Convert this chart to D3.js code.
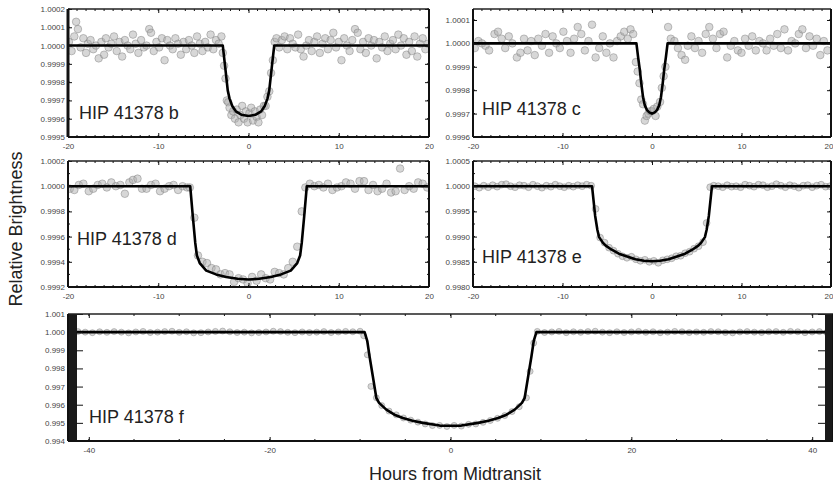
<!DOCTYPE html>
<html>
<head>
<meta charset="utf-8">
<script src="https://cdn.jsdelivr.net/npm/d3@7"></script>
<style>
  body { margin: 0; background: #fff; }
  svg { display: block; font-family: "Liberation Sans", Arial, sans-serif; }
  .tick text { fill: #444; font-size: 8px; }
  .tick line { stroke: #111; }
</style>
</head>
<body>
<script>
// light curves: time (hours from midtransit) and flux offset in ppm from 1
var bTime = [-19.9,-19.6,-19.3,-19.1,-18.9,-18.6,-18.3,-18.0,-17.8,-17.5,-17.2,-16.9,-16.6,-16.3,-16.0,-15.8,-15.5,-15.2,-14.9,-14.6,-14.3,-14.0,-13.7,-13.4,-13.1,-12.8,-12.5,-12.2,-11.9,-11.6,-11.3,-11.0,-10.8,-10.5,-10.2,-9.9,-9.6,-9.3,-9.0,-8.7,-8.4,-8.1,-7.8,-7.5,-7.2,-6.9,-6.6,-6.3,-6.0,-5.7,-5.4,-5.1,-4.8,-4.5,-4.2,-3.9,-3.6,-3.3,-3.0,-2.85,-2.7,-2.55,-2.4,-2.25,-2.1,-1.9,-1.7,-1.5,-1.3,-1.1,-0.9,-0.7,-0.5,-0.3,-0.1,0.1,0.3,0.5,0.7,0.9,1.1,1.3,1.5,1.7,1.9,2.1,2.3,2.5,2.7,2.9,3.1,3.4,3.7,4.0,4.3,4.6,4.9,5.2,5.5,5.8,6.1,6.4,6.7,7.0,7.3,7.6,7.9,8.2,8.5,8.8,9.1,9.4,9.7,10.0,10.3,10.6,10.9,11.2,11.5,11.8,12.1,12.4,12.7,13.0,13.3,13.6,13.9,14.2,14.5,14.8,15.1,15.4,15.7,16.0,16.3,16.6,16.9,17.2,17.5,17.8,18.1,18.4,18.7,19.0,19.3,19.6,19.9];
var bPpm = [20,-30,50,130,90,-10,40,-40,10,30,-20,0,-70,20,-50,40,-10,10,50,-30,20,-60,30,0,-20,60,10,-40,30,-10,0,90,70,-30,20,-10,40,-80,30,0,-20,40,10,-50,20,-20,30,0,-40,50,10,-30,20,-10,60,-20,30,10,50,-40,-110,-180,-300,-310,-340,-380,-360,-400,-350,-420,-380,-330,-400,-360,-420,-370,-340,-410,-360,-390,-420,-350,-380,-330,-330,-280,-250,-150,-80,20,40,-10,30,50,-20,40,10,-10,60,-20,-60,0,30,-30,20,50,-40,10,40,-20,30,70,-10,20,-80,40,0,-30,30,90,70,-20,20,-40,40,0,30,-70,20,-10,50,-30,10,30,-20,60,0,40,-50,20,-30,50,-60,10,40,-20,10];
var bModelTime = [-20,-2.85,-2.6,-2.3,-2.1,-1.8,-1.4,-0.8,0,0.8,1.4,1.8,2.1,2.3,2.6,2.85,20];
var bModelPpm = [0,0,-110,-245,-290,-330,-360,-378,-385,-378,-360,-330,-290,-245,-110,0,0];

var cTime = [-19.8,-19.4,-19.0,-18.6,-18.2,-17.6,-17.2,-16.8,-16.4,-16.0,-15.6,-15.1,-14.7,-14.3,-13.9,-13.5,-13.1,-12.7,-12.3,-11.9,-11.5,-11.1,-10.7,-10.3,-9.9,-9.5,-9.1,-8.7,-8.3,-7.9,-7.5,-7.1,-6.7,-6.3,-5.9,-5.5,-5.1,-4.7,-4.3,-3.9,-3.5,-3.1,-2.7,-2.4,-2.1,-1.8,-1.6,-1.4,-1.2,-1.0,-0.8,-0.6,-0.4,-0.2,0.0,0.2,0.4,0.6,0.9,1.1,1.3,1.5,1.8,2.1,2.5,2.9,3.3,3.7,4.0,4.4,4.8,5.2,5.6,6.0,6.4,6.8,7.2,7.6,8.0,8.4,8.8,9.2,9.6,10.0,10.4,10.8,11.2,11.6,12.0,12.4,12.8,13.2,13.6,14.0,14.4,14.8,15.2,15.6,16.0,16.4,16.8,17.2,17.6,18.0,18.4,18.8,19.2,19.6];
var cPpm = [-20,10,0,-10,-30,40,50,20,-20,30,0,-60,-40,20,-30,10,-50,20,-10,40,-40,30,0,-20,50,10,-40,20,70,40,-30,10,80,-60,-20,30,-40,0,-60,10,30,50,20,60,40,-80,-120,-170,-240,-260,-330,-310,-300,-290,-290,-280,-310,-270,-250,-190,-140,-100,70,20,10,-20,-50,-70,-10,30,-20,10,-40,40,70,20,-20,40,50,-60,-10,10,-30,-40,20,-10,30,-30,10,0,-30,20,-10,40,-20,60,-30,10,0,40,60,-20,30,-10,20,-50,10,-30];
var cModelTime = [-20,-1.74,-1.55,-1.37,-1.2,-1.0,-0.8,-0.56,-0.3,0,0.3,0.56,0.8,1.0,1.2,1.37,1.55,1.74,20];
var cModelPpm = [0,0,-60,-110,-170,-230,-265,-285,-295,-300,-295,-285,-265,-230,-170,-110,-60,0,0];

var dTime = [-19.8,-19.3,-18.8,-18.3,-17.7,-17.2,-16.7,-16.2,-15.7,-15.2,-14.7,-14.2,-13.7,-13.2,-12.8,-12.3,-11.8,-11.3,-10.8,-10.3,-9.8,-9.3,-8.8,-8.3,-7.8,-7.3,-6.8,-6.5,-6.0,-5.6,-5.1,-4.6,-4.1,-3.6,-3.1,-2.6,-2.1,-1.6,-1.1,-0.6,-0.1,0.4,0.9,1.4,1.9,2.4,2.9,3.4,3.9,4.4,4.9,5.4,5.9,6.3,6.8,7.3,7.8,8.3,8.8,9.3,9.8,10.3,10.8,11.3,11.8,12.3,12.8,13.3,13.8,14.3,14.8,15.3,15.8,16.3,16.8,17.3,17.8,18.3,18.8,19.3,19.8];
var dPpm = [-20,-30,10,20,-40,-20,10,20,-10,30,0,10,-60,30,50,60,-20,-20,10,20,-40,-20,0,10,-30,0,-10,-10,-250,-550,-600,-610,-650,-660,-700,-690,-700,-760,-730,-740,-770,-720,-750,-700,-730,-740,-680,-690,-700,-650,-600,-480,-200,-10,20,0,10,-10,20,-30,-10,0,30,20,-20,40,40,-30,10,-40,-20,20,-50,-40,140,-30,0,-20,30,20,-10];
var dModelTime = [-20,-6.46,-6.17,-5.9,-5.72,-5.4,-4.68,-3.6,-2.47,-1.2,0,1.2,2.47,3.6,4.68,5.4,5.72,5.9,6.17,6.46,20];
var dModelPpm = [0,0,-240,-450,-550,-610,-670,-700,-720,-735,-740,-735,-720,-700,-670,-610,-550,-450,-240,0,0];

var eTime = [-19.8,-19.3,-18.8,-18.3,-17.8,-17.3,-16.8,-16.3,-15.8,-15.3,-14.8,-14.3,-13.8,-13.3,-12.8,-12.3,-11.8,-11.3,-10.8,-10.3,-9.8,-9.3,-8.8,-8.3,-7.8,-7.3,-6.8,-6.3,-5.8,-5.3,-4.8,-4.3,-3.8,-3.3,-2.8,-2.3,-1.8,-1.3,-0.8,-0.3,0.2,0.7,1.2,1.7,2.2,2.7,3.2,3.7,4.2,4.7,5.2,5.7,6.1,6.5,6.9,7.4,7.9,8.4,8.9,9.4,9.9,10.4,10.9,11.4,11.9,12.4,12.9,13.4,13.9,14.4,14.9,15.4,15.9,16.4,16.9,17.4,17.9,18.4,18.9,19.4,19.9];
var ePpm = [0,-30,10,-20,20,-10,30,40,0,-20,20,10,-20,30,0,-30,10,-10,30,0,-20,10,-10,20,0,30,10,-450,-1020,-1120,-1220,-1280,-1340,-1390,-1420,-1400,-1450,-1480,-1460,-1500,-1480,-1520,-1470,-1450,-1430,-1390,-1380,-1330,-1300,-1240,-1190,-1110,-730,-20,10,0,-20,20,-10,0,-20,30,10,-10,30,20,-20,0,40,10,-20,20,0,-30,10,20,-20,10,30,-10,0];
var eModelTime = [-20,-6.7,-6.35,-6.1,-5.91,-5.5,-5.17,-4.5,-3.7,-2.7,-1.85,-0.9,0,0.9,1.85,2.7,3.7,4.5,5.17,5.5,5.91,6.1,6.35,6.7,20];
var eModelPpm = [0,0,-590,-870,-1010,-1120,-1180,-1260,-1340,-1400,-1450,-1480,-1490,-1480,-1450,-1400,-1340,-1260,-1180,-1120,-1010,-870,-590,0,0];

var fTime = [-42.0,-41.2,-40.4,-39.6,-38.8,-38.0,-37.2,-36.4,-35.6,-34.8,-34.0,-33.2,-32.4,-31.6,-30.8,-30.0,-29.2,-28.4,-27.6,-26.8,-26.0,-25.2,-24.4,-23.6,-22.8,-22.0,-21.2,-20.4,-19.6,-18.8,-18.0,-17.2,-16.4,-15.6,-14.8,-14.0,-13.2,-12.4,-11.6,-10.8,-10.0,-9.6,-9.2,-8.8,-8.2,-7.6,-6.8,-6.0,-5.2,-4.4,-3.6,-2.8,-2.0,-1.2,-0.4,0.4,1.2,2.0,2.8,3.6,4.4,5.2,6.0,6.8,7.6,8.4,8.8,9.2,9.6,10.4,11.2,12.0,12.8,13.6,14.4,15.2,16.0,16.8,17.6,18.4,19.2,20.0,20.8,21.6,22.4,23.2,24.0,24.8,25.6,26.4,27.2,28.0,28.8,29.6,30.4,31.2,32.0,32.8,33.6,34.4,35.2,36.0,36.8,37.6,38.4,39.2,40.0,40.8,41.6,42.0];
var fPpm = [-20,30,0,-30,20,-10,30,0,-40,10,40,-20,0,30,50,-10,20,-40,-30,10,40,60,20,-20,0,-40,-20,10,50,30,-10,-30,10,-20,0,30,-20,10,40,20,50,-200,-1250,-2990,-3620,-4050,-4350,-4560,-4730,-4850,-4960,-5060,-5150,-5140,-5200,-5140,-5180,-5080,-5060,-4970,-4870,-4750,-4600,-4380,-4110,-3620,-2160,-600,40,-20,10,40,-30,20,-10,30,50,0,-30,20,-20,10,40,-10,20,-30,0,40,20,-20,10,-10,30,20,-20,-40,10,30,0,-20,20,30,-10,40,20,-30,10,30,-20,10];
var fModelTime = [-43,-9.5,-9.2,-8.95,-8.6,-8.2,-7.9,-7.1,-6.2,-5.27,-4.2,-3.06,-1.2,0,1.2,3.06,4.2,5.27,6.2,7.1,7.9,8.2,8.6,8.95,9.2,9.5,43];
var fModelPpm = [0,0,-500,-1340,-2400,-3630,-3900,-4270,-4550,-4730,-4880,-5000,-5150,-5160,-5150,-5000,-4880,-4730,-4550,-4270,-3900,-3630,-2400,-1340,-500,0,0];

// tick labels
var bYTicks = [0.9995,0.9996,0.9997,0.9998,0.9999,1.0000,1.0001,1.0002];
var cYTicks = [0.9996,0.9997,0.9998,0.9999,1.0000,1.0001];
var dYTicks = [0.9992,0.9994,0.9996,0.9998,1.0000,1.0002];
var eYTicks = [0.9980,0.9985,0.9990,0.9995,1.0000,1.0005];
var fYTicks = [0.994,0.995,0.996,0.997,0.998,0.999,1.000,1.001];
var xTicks20 = [-20,-10,0,10,20];
var xTicksF = [-40,-20,0,20,40];

var W = 833, H = 487;
var svg = d3.select("body").append("svg").attr("width", W).attr("height", H);

var panels = [
  {id: "b", t: bTime, v: bPpm, mt: bModelTime, mv: bModelPpm, box: [68, 429, 9, 137],
   xd: [-20, 20], yd: [0.9995, 1.0002], yt: bYTicks, xt: xTicks20, ym: 0.0001, xm: 1, dp: 4, r: 3.8, lab: [79, 119]},
  {id: "c", t: cTime, v: cPpm, mt: cModelTime, mv: cModelPpm, box: [473, 831, 9, 137],
   xd: [-20, 20], yd: [0.9996, 1.000147], yt: cYTicks, xt: xTicks20, ym: 0.0001, xm: 1, dp: 4, r: 3.8, lab: [482, 115]},
  {id: "d", t: dTime, v: dPpm, mt: dModelTime, mv: dModelPpm, box: [68, 429, 161, 287],
   xd: [-20, 20], yd: [0.9992, 1.0002], yt: dYTicks, xt: xTicks20, ym: 0.0001, xm: 1, dp: 4, r: 3.8, lab: [77, 245]},
  {id: "e", t: eTime, v: ePpm, mt: eModelTime, mv: eModelPpm, box: [473, 831, 161, 287],
   xd: [-20, 20], yd: [0.998, 1.0005], yt: eYTicks, xt: xTicks20, ym: 0.00025, xm: 1, dp: 4, r: 3.4, lab: [482, 263]},
  {id: "f", t: fTime, v: fPpm, mt: fModelTime, mv: fModelPpm, box: [68, 833, 314, 441],
   xd: [-42.3, 42.3], yd: [0.994, 1.001], yt: fYTicks, xt: xTicksF, ym: 0.001, xm: 5, dp: 3, r: 3.0, lab: [89, 423]}
];

panels.forEach(function(p) {
  var x0 = p.box[0], x1 = p.box[1], y0 = p.box[2], y1 = p.box[3];
  var x = d3.scaleLinear().domain(p.xd).range([x0, x1]);
  var y = d3.scaleLinear().domain(p.yd).range([y1, y0]);
  var g = svg.append("g");

  g.append("clipPath").attr("id", "clip-" + p.id)
    .append("rect").attr("x", x0).attr("y", y0).attr("width", x1 - x0).attr("height", y1 - y0);
  var plot = g.append("g").attr("clip-path", "url(#clip-" + p.id + ")");

  // data points
  plot.selectAll("circle").data(p.t).enter().append("circle")
    .attr("cx", function(d) { return x(d); })
    .attr("cy", function(d, i) { return y(1 + p.v[i] * 1e-6); })
    .attr("r", p.r)
    .attr("fill", "rgba(175,175,175,0.5)")
    .attr("stroke", "rgba(120,120,120,0.55)")
    .attr("stroke-width", 0.8);

  // model
  var line = d3.line()
    .x(function(d) { return x(d); })
    .y(function(d, i) { return y(1 + p.mv[i] * 1e-6); });
  plot.append("path").datum(p.mt).attr("d", line)
    .attr("fill", "none").attr("stroke", "#000").attr("stroke-width", 2.6)
    .attr("stroke-linejoin", "round");

  // minor ticks
  var minorY = d3.range(p.yd[0], p.yd[1] + 1e-9, p.ym);
  var minorX = d3.range(Math.ceil(p.xd[0] / p.xm) * p.xm, p.xd[1] + 1e-9, p.xm);
  var tl = p.id == "f" ? 7 : 4;
  var mg = g.append("g").attr("stroke", "#111").attr("stroke-width", 1);
  minorX.forEach(function(v) {
    mg.append("line").attr("x1", x(v)).attr("x2", x(v)).attr("y1", y1).attr("y2", y1 - 2);
    mg.append("line").attr("x1", x(v)).attr("x2", x(v)).attr("y1", y0).attr("y2", y0 + 2);
  });
  if (p.id != "f") {
    minorY.forEach(function(v) {
      mg.append("line").attr("x1", x0).attr("x2", x0 + 2).attr("y1", y(v)).attr("y2", y(v));
      mg.append("line").attr("x1", x1).attr("x2", x1 - 2).attr("y1", y(v)).attr("y2", y(v));
    });
  }

  // side bars of the long panel
  if (p.id == "f") {
    g.append("rect").attr("x", x0 + 1).attr("y", y0).attr("width", 8).attr("height", y1 - y0).attr("fill", "#1a1a1a");
    g.append("rect").attr("x", x1 - 8).attr("y", y0).attr("width", 8).attr("height", y1 - y0).attr("fill", "#1a1a1a");
  }

  // axes
  var off = p.id == "f" ? 8 : 0;
  var ay = g.append("g").attr("transform", "translate(" + (x0 + off) + ",0)")
    .call(d3.axisLeft(y).tickValues(p.yt).tickSizeInner(-tl).tickSizeOuter(0).tickPadding(3 + off)
      .tickFormat(function(d) { return d.toFixed(p.dp); }));
  ay.select(".domain").remove();
  var ay2 = g.append("g").attr("transform", "translate(" + (x1 - off) + ",0)")
    .call(d3.axisRight(y).tickValues(p.yt).tickSizeInner(-tl).tickSizeOuter(0).tickFormat(""));
  ay2.select(".domain").remove();
  var ax = g.append("g").attr("transform", "translate(0," + y1 + ")")
    .call(d3.axisBottom(x).tickValues(p.xt).tickSizeInner(-4).tickSizeOuter(0).tickPadding(6)
      .tickFormat(function(d) { return String(d); }));
  ax.select(".domain").remove();
  // keep a label that would run past the page edge inside it
  ax.selectAll(".tick text").filter(function(d) { return x(d) + 6 > W; })
    .attr("text-anchor", "end").attr("dx", 2);
  var ax2 = g.append("g").attr("transform", "translate(0," + y0 + ")")
    .call(d3.axisTop(x).tickValues(p.xt).tickSizeInner(-4).tickSizeOuter(0).tickFormat(""));
  ax2.select(".domain").remove();

  // frame
  g.append("line").attr("x1", x0).attr("x2", x1).attr("y1", y0).attr("y2", y0).attr("stroke", "#222").attr("stroke-width", 1.5);
  g.append("line").attr("x1", x0).attr("x2", x1).attr("y1", y1).attr("y2", y1).attr("stroke", "#111").attr("stroke-width", 2);
  g.append("line").attr("x1", x0).attr("x2", x0).attr("y1", y0).attr("y2", y1).attr("stroke", "#111").attr("stroke-width", p.id == "b" ? 3 : 2);
  g.append("line").attr("x1", x1).attr("x2", x1).attr("y1", y0).attr("y2", y1).attr("stroke", "#111").attr("stroke-width", 2);

  g.append("text").attr("x", p.lab[0]).attr("y", p.lab[1])
    .attr("font-size", 18).attr("fill", "#222")
    .text("HIP 41378 " + p.id);
});

svg.append("text")
  .attr("transform", "translate(22,229) rotate(-90)")
  .attr("text-anchor", "middle").attr("font-size", 18).attr("fill", "#222")
  .text("Relative Brightness");

svg.append("text")
  .attr("x", 455).attr("y", 480)
  .attr("text-anchor", "middle").attr("font-size", 18).attr("fill", "#222")
  .text("Hours from Midtransit");
</script>
</body>
</html>
